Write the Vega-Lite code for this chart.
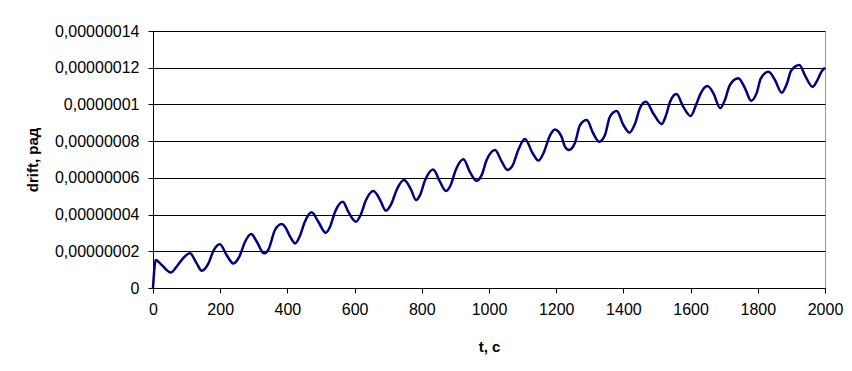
{
  "$schema": "https://vega.github.io/schema/vega-lite/v6.json",
  "width": 672,
  "height": 257,
  "autosize": {"type": "none"},
  "padding": {"left": 153, "top": 31, "right": 27, "bottom": 83},
  "background": "white",
  "config": {
    "view": {"stroke": "#9a9a9a", "strokeWidth": 1},
    "font": "Liberation Sans"
  },
  "data": {
    "values": [
      {"t": 0, "drift": 0},
      {"t": 8, "drift": 1.52e-8},
      {"t": 26, "drift": 1.25e-8},
      {"t": 53, "drift": 0.85e-8},
      {"t": 70, "drift": 1.16e-8},
      {"t": 85, "drift": 1.52e-8},
      {"t": 110, "drift": 1.89e-8},
      {"t": 130, "drift": 1.34e-8},
      {"t": 145, "drift": 0.94e-8},
      {"t": 165, "drift": 1.34e-8},
      {"t": 180, "drift": 2.03e-8},
      {"t": 199, "drift": 2.38e-8},
      {"t": 219, "drift": 1.80e-8},
      {"t": 239, "drift": 1.34e-8},
      {"t": 257, "drift": 1.71e-8},
      {"t": 274, "drift": 2.52e-8},
      {"t": 292, "drift": 2.94e-8},
      {"t": 309, "drift": 2.52e-8},
      {"t": 330, "drift": 1.89e-8},
      {"t": 343, "drift": 2.07e-8},
      {"t": 363, "drift": 3.16e-8},
      {"t": 383, "drift": 3.49e-8},
      {"t": 393, "drift": 3.34e-8},
      {"t": 408, "drift": 2.80e-8},
      {"t": 423, "drift": 2.43e-8},
      {"t": 437, "drift": 2.83e-8},
      {"t": 452, "drift": 3.61e-8},
      {"t": 472, "drift": 4.12e-8},
      {"t": 492, "drift": 3.61e-8},
      {"t": 514, "drift": 3.01e-8},
      {"t": 527, "drift": 3.34e-8},
      {"t": 542, "drift": 4.16e-8},
      {"t": 565, "drift": 4.70e-8},
      {"t": 581, "drift": 4.16e-8},
      {"t": 604, "drift": 3.61e-8},
      {"t": 618, "drift": 3.98e-8},
      {"t": 634, "drift": 4.79e-8},
      {"t": 656, "drift": 5.28e-8},
      {"t": 676, "drift": 4.79e-8},
      {"t": 693, "drift": 4.21e-8},
      {"t": 710, "drift": 4.61e-8},
      {"t": 725, "drift": 5.34e-8},
      {"t": 747, "drift": 5.88e-8},
      {"t": 767, "drift": 5.40e-8},
      {"t": 783, "drift": 4.79e-8},
      {"t": 795, "drift": 5.07e-8},
      {"t": 810, "drift": 5.88e-8},
      {"t": 834, "drift": 6.46e-8},
      {"t": 854, "drift": 5.79e-8},
      {"t": 872, "drift": 5.28e-8},
      {"t": 886, "drift": 5.61e-8},
      {"t": 901, "drift": 6.43e-8},
      {"t": 924, "drift": 7.01e-8},
      {"t": 943, "drift": 6.33e-8},
      {"t": 963, "drift": 5.84e-8},
      {"t": 978, "drift": 6.15e-8},
      {"t": 993, "drift": 6.97e-8},
      {"t": 1018, "drift": 7.52e-8},
      {"t": 1038, "drift": 6.88e-8},
      {"t": 1055, "drift": 6.43e-8},
      {"t": 1071, "drift": 6.70e-8},
      {"t": 1087, "drift": 7.52e-8},
      {"t": 1107, "drift": 8.12e-8},
      {"t": 1130, "drift": 7.34e-8},
      {"t": 1147, "drift": 6.94e-8},
      {"t": 1162, "drift": 7.34e-8},
      {"t": 1182, "drift": 8.33e-8},
      {"t": 1196, "drift": 8.64e-8},
      {"t": 1216, "drift": 8.24e-8},
      {"t": 1226, "drift": 7.70e-8},
      {"t": 1238, "drift": 7.52e-8},
      {"t": 1256, "drift": 7.91e-8},
      {"t": 1271, "drift": 8.88e-8},
      {"t": 1291, "drift": 9.15e-8},
      {"t": 1310, "drift": 8.43e-8},
      {"t": 1328, "drift": 7.97e-8},
      {"t": 1345, "drift": 8.33e-8},
      {"t": 1360, "drift": 9.33e-8},
      {"t": 1380, "drift": 9.64e-8},
      {"t": 1400, "drift": 8.88e-8},
      {"t": 1418, "drift": 8.46e-8},
      {"t": 1435, "drift": 8.97e-8},
      {"t": 1449, "drift": 9.79e-8},
      {"t": 1467, "drift": 10.15e-8},
      {"t": 1489, "drift": 9.51e-8},
      {"t": 1514, "drift": 8.93e-8},
      {"t": 1527, "drift": 9.42e-8},
      {"t": 1539, "drift": 10.15e-8},
      {"t": 1558, "drift": 10.57e-8},
      {"t": 1578, "drift": 9.88e-8},
      {"t": 1600, "drift": 9.37e-8},
      {"t": 1618, "drift": 10.06e-8},
      {"t": 1630, "drift": 10.60e-8},
      {"t": 1650, "drift": 11.00e-8},
      {"t": 1668, "drift": 10.60e-8},
      {"t": 1688, "drift": 9.79e-8},
      {"t": 1702, "drift": 10.24e-8},
      {"t": 1717, "drift": 11.06e-8},
      {"t": 1742, "drift": 11.42e-8},
      {"t": 1762, "drift": 10.88e-8},
      {"t": 1780, "drift": 10.20e-8},
      {"t": 1797, "drift": 10.64e-8},
      {"t": 1809, "drift": 11.42e-8},
      {"t": 1832, "drift": 11.78e-8},
      {"t": 1851, "drift": 11.33e-8},
      {"t": 1871, "drift": 10.64e-8},
      {"t": 1887, "drift": 11.15e-8},
      {"t": 1899, "drift": 11.84e-8},
      {"t": 1924, "drift": 12.15e-8},
      {"t": 1940, "drift": 11.60e-8},
      {"t": 1963, "drift": 10.96e-8},
      {"t": 1975, "drift": 11.24e-8},
      {"t": 1990, "drift": 11.80e-8},
      {"t": 2000, "drift": 12.0e-8}
    ]
  },
  "mark": {"type": "line", "color": "#000080", "strokeWidth": 2.5, "interpolate": "monotone", "clip": false},
  "encoding": {
    "x": {
      "field": "t",
      "type": "quantitative",
      "scale": {"domain": [0, 2000], "nice": false, "zero": false},
      "axis": {
        "title": "t, c",
        "format": "d",
        "values": [0, 200, 400, 600, 800, 1000, 1200, 1400, 1600, 1800, 2000],
        "grid": false,
        "domainColor": "black",
        "domainWidth": 1,
        "tickColor": "black",
        "tickSize": 5,
        "labelFont": "Liberation Sans",
        "labelFontSize": 16,
        "labelColor": "black",
        "labelPadding": 8,
        "labelFlush": false,
        "titleFont": "Liberation Sans",
        "titleFontSize": 15,
        "titleFontWeight": "bold",
        "titleColor": "black",
        "titleBaseline": "middle",
        "titleY": 58
      }
    },
    "y": {
      "field": "drift",
      "type": "quantitative",
      "scale": {"domain": [0, 1.4e-7], "nice": false},
      "axis": {
        "title": "drift, рад",
        "values": [0, 2e-8, 4e-8, 6e-8, 8e-8, 1e-7, 1.2e-7, 1.4e-7],
        "labelExpr": "replace(format(datum.value, '.8~f'), '.', ',')",
        "grid": true,
        "gridColor": "black",
        "gridWidth": 1,
        "gridOpacity": 1,
        "domainColor": "black",
        "domainWidth": 1,
        "tickColor": "black",
        "tickSize": 5,
        "labelFont": "Liberation Sans",
        "labelFontSize": 16,
        "labelColor": "black",
        "labelPadding": 9,
        "labelFlush": false,
        "titleFont": "Liberation Sans",
        "titleFontSize": 15,
        "titleFontWeight": "bold",
        "titleColor": "black",
        "titlePadding": 14
      }
    }
  }
}
